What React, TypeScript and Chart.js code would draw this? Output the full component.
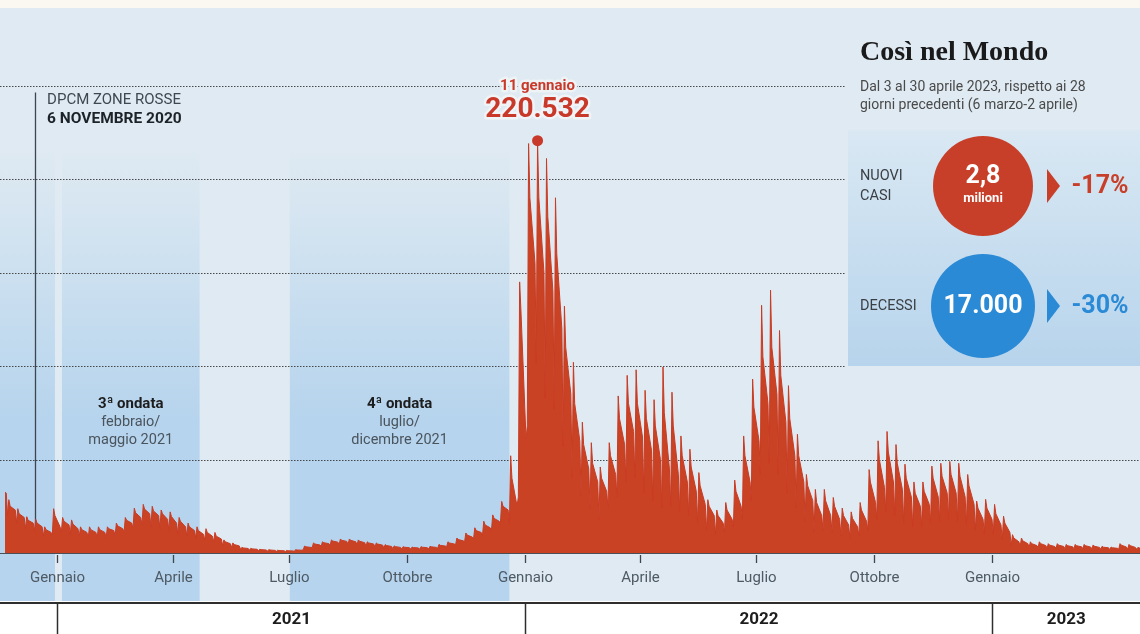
import React, { useEffect, useRef } from "react";
import { Chart, registerables } from "chart.js";

Chart.register(...registerables);

// Day numbers are counted from 1 January 2021 (day 0)
const firstMonday = -46; // Monday 16 November 2020
const UNIT = 1000; // values below are in thousands of daily new cases

// Per week (Italy, daily new cases): Monday low, Tuesday high, Wednesday level, Sunday close
const mondayLow = [
  25, 20, 16, 13, 12, 9, 10, 11,
  10, 9, 8, 8, 8, 9, 11, 13,
  15, 14, 13, 12, 10, 9, 8, 7,
  6, 4, 3, 2, 1.5, 1.2, 1, 0.9,
  0.8, 0.9, 1.8, 3, 3.6, 4.2, 4.5, 4.5,
  4.2, 3.5, 3, 2.6, 2.2, 2, 2, 2,
  2.1, 2.5, 3.3, 4.5, 6, 7.5, 9.5, 12,
  16, 16, 30, 68, 101, 83, 77, 57,
  40, 30, 24, 18, 24, 30, 38, 40,
  32, 28, 24, 25, 22, 20, 16, 12,
  10, 11, 14, 18, 28, 42, 48, 42,
  32, 24, 17, 11, 12, 11, 9, 8,
  9, 12, 18, 22, 20, 16, 14, 14,
  16, 17, 18, 17, 15, 12, 10, 10,
  7, 4, 3.5, 3, 3, 2.5, 2.5, 2.3,
  2.3, 2.3, 2.2, 2, 1.8, 2, 2, 2,
];
const tuesdayHigh = [
  38, 28.5, 23.7, 19.4, 18, 14, 23.7, 19,
  17.7, 14, 14, 14, 14, 16, 19, 24,
  26, 25, 23, 22, 19, 16, 14, 13,
  11, 7, 5.4, 3, 2.5, 2, 1.8, 1.5,
  1.4, 1.8, 3.7, 5.4, 6, 7, 7.5, 7.5,
  7, 6, 5.4, 4.5, 3.8, 3.4, 3.2, 3.4,
  3.6, 4.6, 6, 8, 10.7, 13.5, 17, 20.4,
  27.6, 52, 145, 219, 220.532, 211, 190, 132,
  102, 70, 59, 46, 59, 84, 95, 98,
  87, 82, 99.5, 86, 62.6, 55.5, 43, 28.5,
  23, 27, 39, 62.6, 93, 132.5, 140.6, 119,
  89.5, 63.5, 42, 34, 34, 29.7, 24, 22,
  27, 44.6, 60, 65, 58, 47.5, 38, 38,
  46.5, 48, 49, 48, 42, 27.8, 28.7, 26,
  19.7, 9.8, 8, 6, 6, 5, 5, 4.6,
  4.6, 4.6, 4.3, 3.6, 3.2, 5, 4.6, 3,
];
const wednesdayLevel = [
  34, 25, 21, 17.5, 16, 12.5, 20, 17,
  15.5, 12.5, 12.5, 12.5, 13, 14.5, 17.5, 21.5,
  23.5, 22.5, 21, 19.5, 17, 14, 12, 11,
  9, 6, 4.5, 2.7, 2.2, 1.8, 1.6, 1.3,
  1.2, 1.6, 3.3, 4.8, 5.5, 6.4, 6.8, 6.8,
  6.3, 5.4, 4.8, 4, 3.4, 3.1, 2.9, 3.1,
  3.3, 4.1, 5.4, 7.2, 9.6, 12, 15, 18.5,
  25, 40, 130, 190, 190, 180, 160, 110,
  80, 58, 48, 40, 52, 72, 80, 80,
  72, 68, 75, 68, 52, 46, 36, 25,
  20, 23, 33, 52, 78, 105, 110, 95,
  72, 52, 36, 27, 28, 25, 20, 18.5,
  23, 38, 50, 54, 48, 40, 32, 33,
  40, 41, 42, 41, 36, 24, 24, 21,
  16, 8, 6.5, 5, 5, 4.2, 4.2, 3.9,
  3.9, 3.9, 3.6, 3.1, 2.8, 4.2, 3.9, 2.7,
];
const sundayClose = [
  32, 23, 19, 16, 14, 11, 14, 15,
  13, 11, 11, 11, 12, 13, 16, 19,
  21, 20, 18, 16, 14, 12, 10, 9,
  7.5, 5, 3.8, 2.4, 2, 1.6, 1.4, 1.2,
  1.1, 1.5, 3, 4.3, 5, 5.8, 6.2, 6,
  5.5, 4.8, 4.2, 3.5, 3, 2.8, 2.7, 2.8,
  3, 3.7, 4.8, 6.5, 8.5, 11, 13.5, 17,
  23, 25, 61, 155, 150, 140, 120, 85,
  60, 45, 38, 33, 42, 58, 65, 62,
  55, 50, 45, 42, 38, 33, 26, 20,
  16, 18, 25, 38, 60, 80, 85, 70,
  52, 38, 28, 20, 20, 18, 15, 14,
  17, 27, 35, 38, 34, 30, 25, 26,
  30, 32, 32, 30, 26, 18, 18, 15,
  11, 6, 5, 4, 4, 3.5, 3.5, 3.3,
  3.3, 3.2, 3, 2.8, 2.5, 3.2, 3, 2.5,
];

const monthTickDays = [0, 90, 181, 273, 365, 455, 546, 638, 730];
const monthTickLabels = ["Gennaio", "Aprile", "Luglio", "Ottobre", "Gennaio", "Aprile", "Luglio", "Ottobre", "Gennaio"];
const yearStartDays = [0, 365, 730];
const yearLabels = ["2021", "2022", "2023"];
const gridValues = [50000, 100000, 150000, 200000, 250000];
const waveBands = [[-41, -2], [3.5, 111], [181.5, 353]];
const waveTitles = ["3ª ondata", "4ª ondata"];
const waveSubtitles = [["febbraio/", "maggio 2021"], ["luglio/", "dicembre 2021"]];
const peakDay = 375; // 11 January 2022
const peakValue = 220532;
const peakDateLabel = "11 gennaio";
const peakValueLabel = "220.532";
const dpcmDay = -17.5;
const dpcmLines = ["DPCM ZONE ROSSE", "6 NOVEMBRE 2020"];
const xMin = -41;
const xMax = 845.6;
const yMax = 291500;

const worldTitle = "Così nel Mondo";
const worldSubtitle = ["Dal 3 al 30 aprile 2023, rispetto ai 28", "giorni precedenti (6 marzo-2 aprile)"];
const worldRows = [
  { label: ["NUOVI", "CASI"], value: "2,8", unit: "milioni", change: "-17%", color: "#c83f29" },
  { label: ["DECESSI"], value: "17.000", unit: "", change: "-30%", color: "#2b8ad5" },
];

const SANS = "Roboto, 'Noto Sans', sans-serif";
const W = 1140;
const H = 634;
const PANEL_X = 848;

function txt(ctx, s, x, y, font, color, align = "left", halo = null, haloW = 4) {
  ctx.font = font;
  ctx.textAlign = align;
  ctx.textBaseline = "middle";
  if (halo) {
    ctx.lineJoin = "round";
    ctx.strokeStyle = halo;
    ctx.lineWidth = haloW;
    ctx.strokeText(s, x, y);
  }
  ctx.fillStyle = color;
  ctx.fillText(s, x, y);
}

const backgroundPlugin = {
  id: "bgPlugin",
  beforeDraw(chart) {
    const { ctx, chartArea } = chart;
    const xs = chart.scales.x;
    const ys = chart.scales.y;
    ctx.save();
    ctx.fillStyle = "#dfeaf2";
    ctx.fillRect(0, 0, W, 601);
    ctx.fillStyle = "#fbf8f1";
    ctx.fillRect(0, 0, W, 8);
    const g = ctx.createLinearGradient(0, 150, 0, 420);
    g.addColorStop(0, "rgba(182,212,237,0)");
    g.addColorStop(1, "rgba(182,212,237,1)");
    ctx.fillStyle = g;
    waveBands.forEach(([a, b]) => {
      const x1 = a <= xs.min ? 0 : xs.getPixelForValue(a);
      const x2 = xs.getPixelForValue(b);
      ctx.fillRect(x1, 150, x2 - x1, 601 - 150);
    });
    ctx.strokeStyle = "rgba(55,55,55,0.9)";
    ctx.lineWidth = 1;
    ctx.setLineDash([1.5, 1.5]);
    gridValues.forEach((v) => {
      const py = Math.round(ys.getPixelForValue(v)) + 0.5;
      const right = v >= 100000 ? PANEL_X - 2 : W;
      ctx.beginPath();
      ctx.moveTo(0, py);
      ctx.lineTo(right, py);
      ctx.stroke();
    });
    ctx.setLineDash([]);
    const dx = Math.round(xs.getPixelForValue(dpcmDay)) + 0.5;
    ctx.strokeStyle = "#3c4650";
    ctx.lineWidth = 1.3;
    ctx.beginPath();
    ctx.moveTo(dx, ys.getPixelForValue(250000) + 7);
    ctx.lineTo(dx, chartArea.bottom);
    ctx.stroke();
    ctx.restore();
  },
};

const foregroundPlugin = {
  id: "fgPlugin",
  afterDatasetsDraw(chart) {
    const { ctx, chartArea } = chart;
    const xs = chart.scales.x;
    const ys = chart.scales.y;
    const base = chartArea.bottom;
    ctx.save();

    // baseline
    ctx.strokeStyle = "#4a4f55";
    ctx.lineWidth = 1.2;
    ctx.beginPath();
    ctx.moveTo(0, base + 0.5);
    ctx.lineTo(W, base + 0.5);
    ctx.stroke();

    // month ticks and labels
    monthTickDays.forEach((d, i) => {
      const px = Math.round(xs.getPixelForValue(d)) + 0.5;
      ctx.strokeStyle = "#3f464d";
      ctx.lineWidth = 1.3;
      ctx.beginPath();
      ctx.moveTo(px, base + 2);
      ctx.lineTo(px, base + 10);
      ctx.stroke();
      txt(ctx, monthTickLabels[i], px, base + 25, `15px ${SANS}`, "#4e5a64", "center");
    });

    // year band
    ctx.fillStyle = "#ffffff";
    ctx.fillRect(0, 602, W, H - 602);
    ctx.strokeStyle = "#2e2e2e";
    ctx.lineWidth = 2;
    ctx.beginPath();
    ctx.moveTo(0, 603);
    ctx.lineTo(W, 603);
    ctx.stroke();
    const seps = yearStartDays.map((d) => Math.round(xs.getPixelForValue(d)) + 0.5);
    seps.forEach((sx) => {
      ctx.lineWidth = 1.5;
      ctx.beginPath();
      ctx.moveTo(sx, 603);
      ctx.lineTo(sx, H);
      ctx.stroke();
    });
    yearLabels.forEach((lab, i) => {
      const a = seps[i];
      const b = i + 1 < seps.length ? seps[i + 1] : W;
      txt(ctx, lab, (a + b) / 2, 620, `bold 17px ${SANS}`, "#1d1d1d", "center");
    });

    // DPCM annotation
    const dx = xs.getPixelForValue(dpcmDay);
    txt(ctx, dpcmLines[0], dx + 12, 100, `15px ${SANS}`, "#3d4852");
    txt(ctx, dpcmLines[1], dx + 12, 119, `bold 15.5px ${SANS}`, "#1c2227");

    // wave labels
    [1, 2].forEach((bi, i) => {
      const cx = (xs.getPixelForValue(waveBands[bi][0]) + xs.getPixelForValue(waveBands[bi][1])) / 2;
      txt(ctx, waveTitles[i], cx, 404, `bold 15px ${SANS}`, "#1d1d1d", "center");
      txt(ctx, waveSubtitles[i][0], cx, 422, `14.5px ${SANS}`, "#4a545c", "center");
      txt(ctx, waveSubtitles[i][1], cx, 440, `14.5px ${SANS}`, "#4a545c", "center");
    });

    // peak annotation
    const pkx = xs.getPixelForValue(peakDay);
    const pky = ys.getPixelForValue(peakValue);
    ctx.fillStyle = "#c8392a";
    ctx.beginPath();
    ctx.arc(pkx, pky, 5.5, 0, Math.PI * 2);
    ctx.fill();
    txt(ctx, peakDateLabel, pkx, 86, `bold 15px ${SANS}`, "#c8392a", "center", "#eef3f6", 5);
    txt(ctx, peakValueLabel, pkx, 110, `bold 28px ${SANS}`, "#c8392a", "center", "#f1f4f6", 5);

    // "Così nel Mondo" panel
    const pg = ctx.createLinearGradient(0, 130, 0, 366);
    pg.addColorStop(0, "#d9e8f3");
    pg.addColorStop(1, "#b7d4ec");
    ctx.fillStyle = pg;
    ctx.fillRect(PANEL_X, 130, W - PANEL_X, 236);
    txt(ctx, worldTitle, 860, 53, "bold 28px 'Liberation Serif', 'DejaVu Serif', serif", "#1a1a1a");
    txt(ctx, worldSubtitle[0], 860, 87, `14px ${SANS}`, "#4a4a4a");
    txt(ctx, worldSubtitle[1], 860, 105, `14px ${SANS}`, "#4a4a4a");

    const centers = [186, 306];
    worldRows.forEach((row, i) => {
      const cy = centers[i];
      const cx = 983;
      if (row.label.length === 2) {
        txt(ctx, row.label[0], 860, cy - 10, `14.5px ${SANS}`, "#3a3f44");
        txt(ctx, row.label[1], 860, cy + 10, `14.5px ${SANS}`, "#3a3f44");
      } else {
        txt(ctx, row.label[0], 860, cy, `14.5px ${SANS}`, "#3a3f44");
      }
      ctx.fillStyle = row.color;
      ctx.beginPath();
      ctx.arc(cx, cy, i === 0 ? 50 : 52, 0, Math.PI * 2);
      ctx.fill();
      if (row.unit) {
        txt(ctx, row.value, cx, cy - 9, `bold 25px ${SANS}`, "#ffffff", "center");
        txt(ctx, row.unit, cx, cy + 13, `bold 13px ${SANS}`, "#ffffff", "center");
      } else {
        txt(ctx, row.value, cx, cy + 1, `bold 25px ${SANS}`, "#ffffff", "center");
      }
      ctx.fillStyle = row.color;
      ctx.beginPath();
      ctx.moveTo(1047, cy - 17);
      ctx.lineTo(1060, cy);
      ctx.lineTo(1047, cy + 17);
      ctx.closePath();
      ctx.fill();
      txt(ctx, row.change, 1100, cy + 1, `bold 25px ${SANS}`, row.color, "center");
    });

    ctx.restore();
  },
};

export default function App() {
  const canvasRef = useRef(null);

  useEffect(() => {
    const points = [];
    mondayLow.forEach((lo, i) => {
      const d = firstMonday + 7 * i;
      points.push({ x: d, y: Math.round(lo * UNIT) });
      points.push({ x: d + 1, y: Math.round(tuesdayHigh[i] * UNIT) });
      points.push({ x: d + 2, y: Math.round(wednesdayLevel[i] * UNIT) });
      points.push({ x: d + 6, y: Math.round(sundayClose[i] * UNIT) });
    });

    const chart = new Chart(canvasRef.current, {
      type: "line",
      data: {
        datasets: [
          {
            data: points,
            fill: "origin",
            backgroundColor: "#ca4224",
            borderColor: "#c93b23",
            borderWidth: 1,
            pointRadius: 0,
            tension: 0,
            clip: 0,
          },
        ],
      },
      options: {
        animation: false,
        responsive: false,
        devicePixelRatio: 1,
        layout: { padding: { left: 5, right: 0, top: 8, bottom: H - 553 } },
        plugins: { legend: { display: false }, tooltip: { enabled: false }, title: { display: false } },
        scales: {
          x: { type: "linear", min: xMin, max: xMax, display: false },
          y: { type: "linear", min: 0, max: yMax, display: false },
        },
      },
      plugins: [backgroundPlugin, foregroundPlugin],
    });
    return () => chart.destroy();
  }, []);

  return (
    <div style={{ position: "absolute", left: 0, top: 0, width: W, height: H }}>
      <canvas ref={canvasRef} width={W} height={H} style={{ display: "block" }} />
    </div>
  );
}
